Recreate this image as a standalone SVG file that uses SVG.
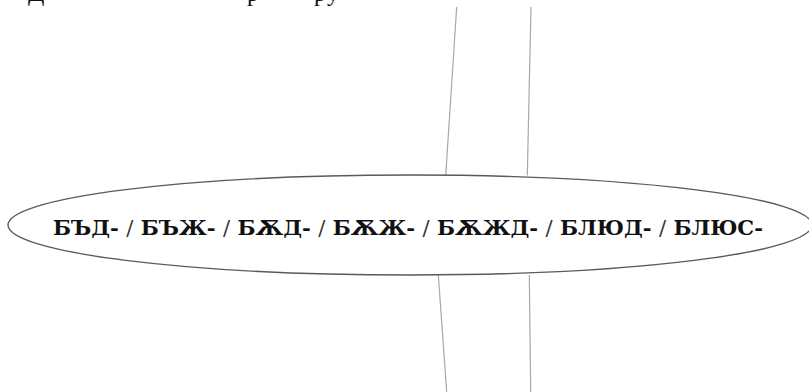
<svg xmlns="http://www.w3.org/2000/svg" width="809" height="392" viewBox="0 0 809 392">
<style>
.conn{stroke:#a8a8a8;stroke-width:1.2;fill:none}
.node{fill:#ffffff;stroke:#5a5a5a;stroke-width:1.4}
.lbl{font-family:"DejaVu Serif","Liberation Serif",serif;font-weight:bold;font-size:20px;fill:#111}
.sl{font-weight:normal;fill:#333}
.frag{font-family:"Liberation Serif","Times New Roman",serif;font-size:24px;fill:#111}
</style>
<rect width="809" height="392" fill="#ffffff"/>
<text class="frag" y="1"><tspan x="28">Д</tspan><tspan x="247">р</tspan><tspan x="314">р</tspan><tspan x="327">у</tspan></text>
<g id="connectors">
<line class="conn" x1="456.7" y1="7" x2="445.7" y2="175.5"/>
<line class="conn" x1="531" y1="7" x2="527.3" y2="175.5"/>
<line class="conn" x1="438.3" y1="275" x2="446.7" y2="392"/>
<line class="conn" x1="529.3" y1="275" x2="530.7" y2="392"/>
</g>
<g id="node-main">
<ellipse class="node" cx="410" cy="225" rx="402" ry="50"/>
<text class="lbl" x="408" y="235" text-anchor="middle" textLength="710" lengthAdjust="spacingAndGlyphs">БЪД- <tspan class="sl">/</tspan> БЪЖ- <tspan class="sl">/</tspan> БѪД- <tspan class="sl">/</tspan> БѪЖ- <tspan class="sl">/</tspan> БѪЖД- <tspan class="sl">/</tspan> БЛЮД- <tspan class="sl">/</tspan> БЛЮС-</text>
</g>
</svg>
